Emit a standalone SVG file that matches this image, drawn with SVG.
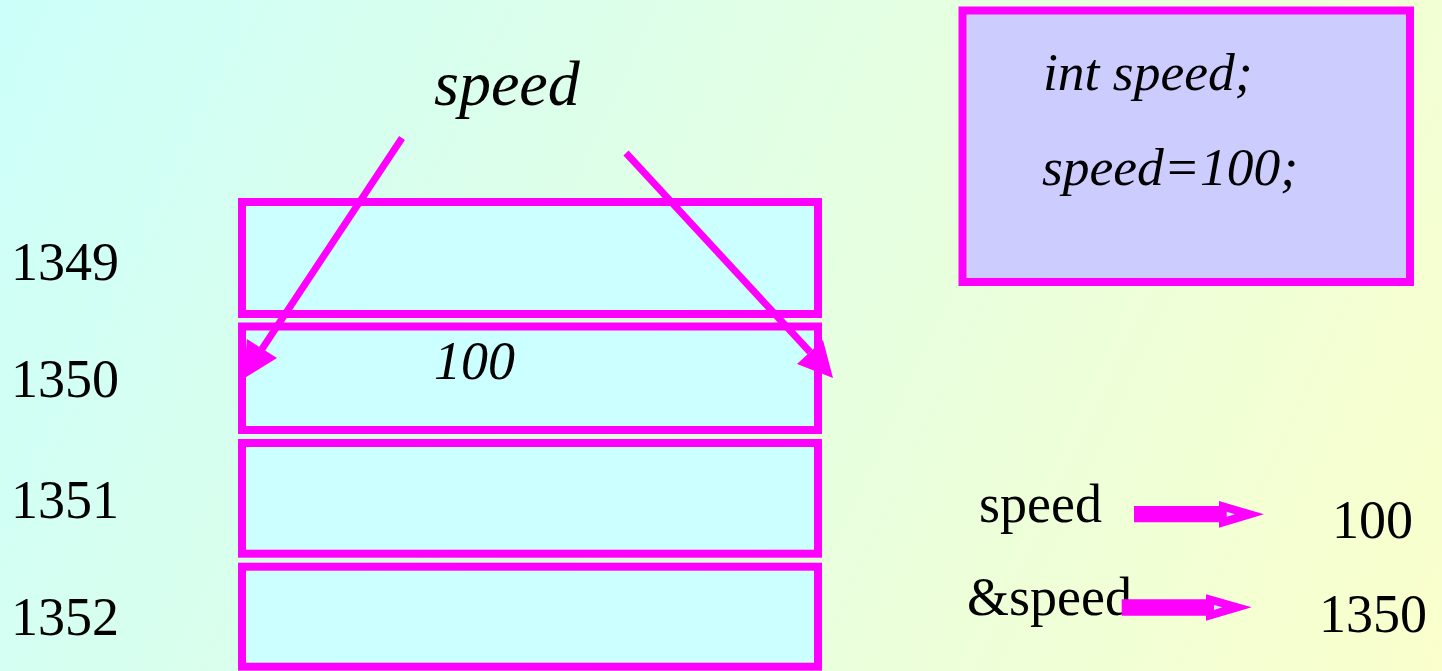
<svg xmlns="http://www.w3.org/2000/svg" width="1442" height="671" viewBox="0 0 1442 671">
  <defs>
    <linearGradient id="bg" gradientUnits="userSpaceOnUse" x1="0" y1="0" x2="1442" y2="671">
      <stop offset="0" stop-color="#CCFFFA"/>
      <stop offset="1" stop-color="#FAFFCC"/>
    </linearGradient>
  </defs>
  <style>
    .cell { fill: #CCFFFF; stroke: #FF00FF; stroke-width: 8; }
    .code { fill: #CCCCFF; stroke: #FF00FF; stroke-width: 8; }
    .t { font-family: "Liberation Serif", "Times New Roman", serif; fill: #000000; }
    .it { font-style: italic; }
    .line { stroke: #FF00FF; stroke-width: 7; fill: none; stroke-linecap: butt; }
    .head { fill: #FF00FF; }
    .hole { fill: #CCEEFF; }
  </style>
  <rect x="0" y="0" width="1442" height="671" fill="url(#bg)"/>

  <g id="label-speed">
    <text class="t it" x="434" y="105" font-size="64">speed</text>
  </g>

  <g id="cell-1349">
    <rect class="cell" x="242" y="202" width="576" height="112"/>
    <text class="t" x="11" y="280" font-size="54">1349</text>
  </g>
  <g id="cell-1350">
    <rect class="cell" x="242" y="326.5" width="576" height="103.5"/>
    <text class="t" x="11" y="396.5" font-size="54">1350</text>
    <text class="t it" x="434" y="378.5" font-size="54">100</text>
  </g>
  <g id="cell-1351">
    <rect class="cell" x="242" y="443" width="576" height="110.7"/>
    <text class="t" x="11" y="518" font-size="54">1351</text>
  </g>
  <g id="cell-1352">
    <rect class="cell" x="242" y="566.7" width="576" height="100"/>
    <text class="t" x="11" y="635" font-size="54">1352</text>
  </g>

  <g id="code-box">
    <rect class="code" x="962.5" y="10.5" width="447.5" height="271.5"/>
    <text class="t it" x="1043" y="90" font-size="53.5">int speed;</text>
    <text class="t it" x="1042" y="185" font-size="53.5">speed=100;</text>
  </g>

  <g id="value-row">
    <text class="t" x="979" y="522" font-size="54">speed</text>
    <text class="t" x="1332" y="538" font-size="54">100</text>
  </g>
  <g id="address-row">
    <text class="t" x="967" y="615" font-size="54">&amp;speed</text>
    <text class="t" x="1319" y="632" font-size="54">1350</text>
  </g>

  <g id="connectors">
    <line class="line" x1="402" y1="138" x2="262" y2="349"/>
    <polygon class="head" points="247,339 277,358 243,379"/>
    <line class="line" x1="626" y1="153" x2="810" y2="352"/>
    <polygon class="head" points="823,340 797,364 833,378"/>
    <polygon class="head" points="1134,506 1219,506 1219,501 1264,514.3 1219,527.7 1219,522.3 1134,522.3"/>
    <polygon class="hole" points="1226.7,511.7 1235,514.3 1226.7,516.7"/>
    <polygon class="head" points="1121.7,599.3 1206,599.3 1206,594.3 1251.7,607.3 1206,620.7 1206,615.7 1121.7,615.7"/>
    <polygon class="hole" points="1214,605 1222.3,607.3 1214,610"/>
  </g>
</svg>
